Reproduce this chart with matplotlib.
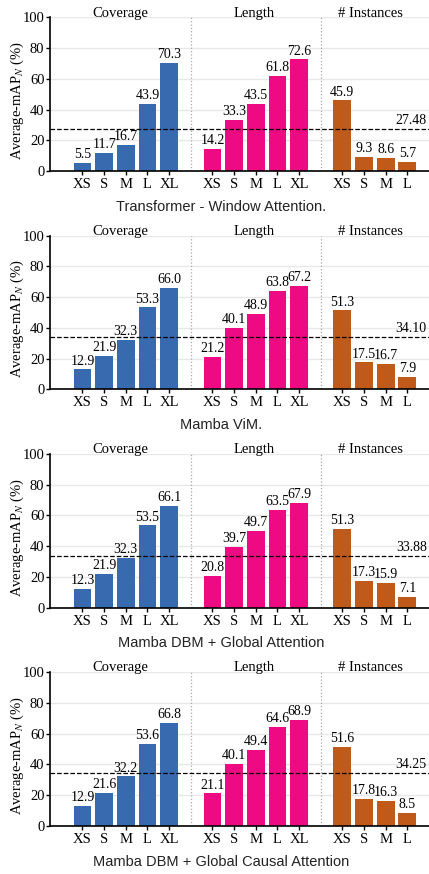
import matplotlib
matplotlib.use("Agg")
import matplotlib.pyplot as plt
import numpy as np

plt.rcParams['font.family'] = 'Liberation Serif'
plt.rcParams['mathtext.fontset'] = 'stix'

# data
sizes_5 = ["XS", "S", "M", "L", "XL"]
sizes_4 = ["XS", "S", "M", "L"]
groups = ["Coverage", "Length", "# Instances"]

captions = ["Transformer - Window Attention.",
            "Mamba ViM.",
            "Mamba DBM + Global Attention",
            "Mamba DBM + Global Causal Attention"]

coverage = [[5.5, 11.7, 16.7, 43.9, 70.3],
            [12.9, 21.9, 32.3, 53.3, 66.0],
            [12.3, 21.9, 32.3, 53.5, 66.1],
            [12.9, 21.6, 32.2, 53.6, 66.8]]
length = [[14.2, 33.3, 43.5, 61.8, 72.6],
          [21.2, 40.1, 48.9, 63.8, 67.2],
          [20.8, 39.7, 49.7, 63.5, 67.9],
          [21.1, 40.1, 49.4, 64.6, 68.9]]
instances = [[45.9, 9.3, 8.6, 5.7],
             [51.3, 17.5, 16.7, 7.9],
             [51.3, 17.3, 15.9, 7.1],
             [51.6, 17.8, 16.3, 8.5]]
means = [27.48, 34.10, 33.88, 34.25]

colors = ["#386aaf", "#ee0a82", "#c05a1a"]

W, H = 429, 874
fig = plt.figure(figsize=(W / 100, H / 100), dpi=100)

x_cov = np.arange(5)
x_len = np.arange(5) + 6
x_ins = np.arange(4) + 12

for i in range(4):
    top = 17.3 + 218.3 * i
    bot = 171 + 218.3 * i
    ax = fig.add_axes([50 / W, 1 - bot / H, (W - 50) / W, (bot - top) / H])

    ax.grid(True, axis='y', color='#e8e8e8', linewidth=1.0, zorder=0)
    ax.set_axisbelow(True)

    for xs, vals, c in [(x_cov, coverage[i], colors[0]),
                        (x_len, length[i], colors[1]),
                        (x_ins, instances[i], colors[2])]:
        bars = ax.bar(xs, vals, width=0.82, color=c, zorder=2)
        for b, v in zip(bars, vals):
            ax.text(b.get_x() + b.get_width() / 2, v + 1.2, f'{v:.1f}',
                    ha='center', va='bottom', fontsize=10, zorder=3)

    # separators between groups
    for sx in [5, 11]:
        ax.axvline(sx, color='#a8a8a8', linestyle=':', linewidth=0.9, zorder=1)

    # average line
    ax.axhline(means[i], color='black', linestyle='--', linewidth=0.9, zorder=4)
    ax.text(15.9, means[i] + 1.2, f'{means[i]:.2f}', ha='right', va='bottom', fontsize=10)

    for gx, g in zip([1.75, 7.95, 13.3], groups):
        ax.text(gx, 100.5, g, ha='center', va='baseline', fontsize=10.5, clip_on=False)

    ax.set_xticks(list(x_cov) + list(x_len) + list(x_ins))
    ax.set_xticklabels(sizes_5 + sizes_5 + sizes_4, fontsize=10.5)
    ax.set_yticks([0, 20, 40, 60, 80, 100])
    ax.tick_params(axis='y', labelsize=10.5, length=3, width=1, pad=1)
    ax.tick_params(axis='x', length=3, width=1, pad=2)
    ax.set_xlim(-1.5, 16)
    ax.set_ylim(0, 100)

    for s in ['top', 'right']:
        ax.spines[s].set_visible(False)
    for s in ['left', 'bottom']:
        ax.spines[s].set_linewidth(1.2)

    ax.set_ylabel(r'Average-mAP$_N$ (%)', fontsize=10.5)
    ax.yaxis.set_label_coords(-0.064, 0.46)

    cy = 206.7 + 218.3 * i
    fig.text(221 / W, 1 - cy / H, captions[i], ha='center', va='center',
             fontsize=10.5, family='Liberation Sans', color='#222222')

fig.savefig('out.png', dpi=100)
